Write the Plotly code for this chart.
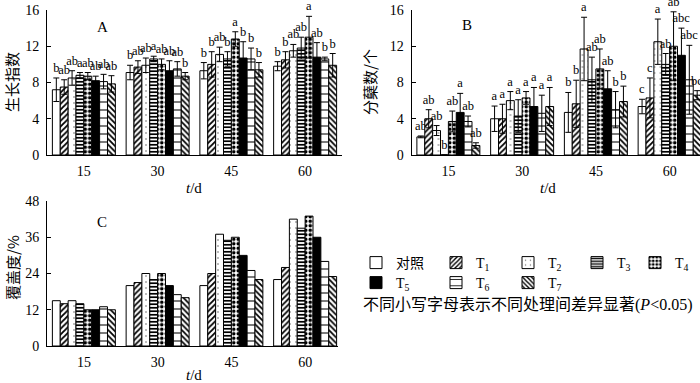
import plotly.graph_objects as go

# ---------------- data ----------------
days = ['15', '30', '45', '60']
treatments = ['对照', 'T<sub>1</sub>', 'T<sub>2</sub>', 'T<sub>3</sub>',
              'T<sub>4</sub>', 'T<sub>5</sub>', 'T<sub>6</sub>', 'T<sub>7</sub>']

# Panel A: growth index (rows = treatments, cols = days)
growth_mean = [
    [7.2, 9.1, 9.3, 9.8],
    [7.5, 9.7, 10.0, 10.5],
    [8.5, 9.9, 11.1, 11.5],
    [8.8, 10.6, 10.6, 11.8],
    [8.7, 10.0, 12.8, 13.0],
    [8.2, 9.3, 10.7, 10.8],
    [8.1, 9.5, 10.6, 10.6],
    [7.85, 8.7, 9.4, 9.9],
]
growth_err = [
    [1.3, 0.8, 0.9, 0.5],
    [0.8, 0.7, 1.4, 0.9],
    [0.8, 0.8, 0.8, 0.7],
    [0.3, 0.3, 0.8, 1.2],
    [0.4, 0.6, 0.8, 2.3],
    [0.5, 1.1, 1.8, 1.6],
    [0.8, 0.8, 1.2, 0.2],
    [0.9, 0.4, 0.8, 1.3],
]
growth_sig = [
    ['b', 'b', 'b', 'b'],
    ['ab', 'ab', 'b', 'b'],
    ['ab', 'ab', 'ab', 'ab'],
    ['a', 'a', 'b', 'ab'],
    ['ab', 'ab', 'a', 'a'],
    ['ab', 'ab', 'b', 'ab'],
    ['ab', 'ab', 'b', 'b'],
    ['ab', 'b', 'b', 'b'],
]

# Panel B: tiller number
tiller_mean = [
    [2.0, 4.0, 4.7, 5.35],
    [4.0, 4.0, 5.65, 6.3],
    [2.7, 6.0, 11.7, 12.5],
    [0.0, 4.3, 8.3, 10.0],
    [3.7, 6.3, 9.5, 12.0],
    [4.7, 5.35, 7.3, 11.0],
    [3.7, 4.6, 5.0, 8.3],
    [1.05, 5.35, 5.9, 6.6],
]
tiller_err = [
    [0.1, 1.4, 2.2, 0.8],
    [1.0, 1.6, 2.6, 2.2],
    [0.55, 1.0, 3.5, 2.5],
    [0.0, 1.8, 2.5, 1.2],
    [1.15, 0.7, 2.2, 3.8],
    [2.1, 2.1, 2.0, 3.0],
    [0.6, 2.0, 2.0, 3.8],
    [0.3, 2.1, 1.7, 0.5],
]
tiller_sig = [
    ['ab', 'a', 'b', 'c'],
    ['ab', 'a', 'b', 'c'],
    ['ab', 'a', 'a', 'a'],
    ['b', 'a', 'ab', 'ab'],
    ['ab', 'a', 'ab', 'ab'],
    ['a', 'a', 'ab', 'abc'],
    ['ab', 'a', 'b', 'abc'],
    ['ab', 'a', 'b', 'bc'],
]

# Panel C: coverage (%)
cover_mean = [
    [15, 20, 20, 22],
    [14, 21, 24, 26],
    [15, 24, 37, 42],
    [14, 22, 35, 39],
    [12, 24, 36, 43],
    [12, 20, 30, 36],
    [13, 17, 25, 28],
    [12, 16, 22, 23],
]

# ---------------- styling ----------------
W, H = 700, 383
SERIF = "Liberation Serif, 'Noto Sans CJK SC', serif"
CJK = "'Noto Sans CJK SC', sans-serif"


def px(x):
    return x / W


def py(y):
    return 1 - y / H


def marker_for(k):
    line = dict(color='black', width=1)
    if k == 0:
        return dict(color='white', line=line)
    if k == 5:
        return dict(color='black', line=line)
    pats = {
        1: dict(shape='/', size=4, solidity=0.45, fgcolor='black'),
        2: dict(shape='.', size=6, solidity=0.06, fgcolor='#666'),
        3: dict(shape='-', size=3.5, solidity=0.5, fgcolor='black'),
        4: dict(shape='.', size=4.5, solidity=0.5, fgcolor='black'),
        6: dict(shape='-', size=8, solidity=0.13, fgcolor='black'),
        7: dict(shape='\\', size=4, solidity=0.45, fgcolor='black'),
    }
    p = pats[k]
    p.update(bgcolor='white', fillmode='replace')
    return dict(color='white', line=line, pattern=p)


fig = go.Figure()

panels = [
    ('x', 'y', growth_mean, growth_err, growth_sig),
    ('x2', 'y2', tiller_mean, tiller_err, tiller_sig),
    ('x3', 'y3', cover_mean, None, None),
]

for xa, ya, vals, errs, sig in panels:
    for k in range(8):
        legend_id = 'legend' if k == 0 else f'legend{k + 1}'
        kw = {}
        if errs is not None:
            kw['error_y'] = dict(type='data', array=errs[k], color='black',
                                 thickness=1, width=3)
        fig.add_bar(
            x=days, y=vals[k], xaxis=xa, yaxis=ya,
            offsetgroup=str(k), alignmentgroup=xa,
            marker=marker_for(k), name=treatments[k],
            showlegend=(xa == 'x3'), legend=legend_id,
            hoverinfo='skip', **kw)
        if sig is not None:
            tops = [v + e for v, e in zip(vals[k], errs[k])]
            fig.add_bar(
                x=days, y=tops, xaxis=xa, yaxis=ya,
                offsetgroup=str(k), alignmentgroup=xa,
                text=sig[k], textposition='outside', textangle=0,
                constraintext='none', cliponaxis=False,
                textfont=dict(family=SERIF, size=12.5, color='black'),
                marker=dict(color='rgba(0,0,0,0)', line=dict(width=0)),
                showlegend=False, hoverinfo='skip')

cat_w = 73.75  # pixels per category


def xaxis(domain_px):
    w = domain_px[1] - domain_px[0]
    return dict(domain=[px(domain_px[0]), min(1, px(domain_px[1]))],
                type='category', range=[-0.5, -0.5 + w / cat_w],
                showline=True, linecolor='black', linewidth=1,
                ticks='', showgrid=False, zeroline=False, automargin=False,
                ticklabelstandoff=3,
                tickfont=dict(family=SERIF, size=14, color='black'))


def yaxis(top, bottom, rng, dt):
    return dict(domain=[py(bottom), py(top)], range=rng, dtick=dt,
                showline=True, linecolor='black', linewidth=1,
                ticks='inside', ticklen=4, tickcolor='black', automargin=False,
                showgrid=False, zeroline=False, ticklabelstandoff=4,
                tickfont=dict(family=SERIF, size=14, color='black'))


xa1 = xaxis((47, 342))
xa2 = xaxis((411.5, 700))
xa3 = xaxis((47, 338))
xa2['anchor'] = 'y2'
xa3['anchor'] = 'y3'
ya1 = yaxis(10, 155, [0, 16], 4)
ya2 = yaxis(10, 155, [0, 16], 4)
ya3 = yaxis(201, 346, [0, 48], 12)
ya2['anchor'] = 'x2'
ya3['anchor'] = 'x3'

legend_cols = [376, 456, 528, 597, 655]
legend_rows = [263, 283]
legends = {}
for k in range(8):
    r, c = divmod(k, 5)
    key = 'legend' if k == 0 else f'legend{k + 1}'
    legends[key] = dict(
        x=px(legend_cols[c] - 20), xanchor='left',
        y=py(legend_rows[r]), yanchor='middle',
        orientation='h', bgcolor='rgba(0,0,0,0)', borderwidth=0,
        font=dict(family=SERIF, size=14, color='black'))

annotations = [
    dict(text='A', x=px(103), y=py(27), font=dict(family=SERIF, size=15)),
    dict(text='B', x=px(467), y=py(25), font=dict(family=SERIF, size=15)),
    dict(text='C', x=px(102), y=py(222), font=dict(family=SERIF, size=15)),
    dict(text='<i>t</i>/d', x=px(194), y=py(188), font=dict(family=SERIF, size=15)),
    dict(text='<i>t</i>/d', x=px(548), y=py(188), font=dict(family=SERIF, size=15)),
    dict(text='<i>t</i>/d', x=px(194), y=py(375), font=dict(family=SERIF, size=15)),
    dict(text='生长指数', x=px(12), y=py(82), textangle=-90, font=dict(family=CJK, size=15)),
    dict(text='分蘖数/个', x=px(370), y=py(82), textangle=-90, font=dict(family=CJK, size=15)),
    dict(text='覆盖度/%', x=px(12), y=py(268), textangle=-90, font=dict(family=CJK, size=15)),
    dict(text='不同小写字母表示不同处理间差异显著(<i>P</i>&lt;0.05)', x=px(527), y=py(305),
         font=dict(family=SERIF, size=16)),
]
for a in annotations:
    a.update(xref='paper', yref='paper', showarrow=False,
             xanchor='center', yanchor='middle')
    a['font'].setdefault('color', 'black')

fig.update_layout(
    template='none',
    width=W, height=H, margin=dict(l=0, r=0, t=0, b=0, autoexpand=False),
    paper_bgcolor='white', plot_bgcolor='white',
    barmode='group', bargap=0.146, bargroupgap=0,
    xaxis=xa1, yaxis=ya1, xaxis2=xa2, yaxis2=ya2, xaxis3=xa3, yaxis3=ya3,
    annotations=annotations,
    font=dict(family=SERIF, color='black'),
    **legends,
)

fig.write_html(
    'out.html',
    config={'displayModeBar': False},
    post_script="document.body.style.margin='0';document.body.style.overflow='hidden';",
)
